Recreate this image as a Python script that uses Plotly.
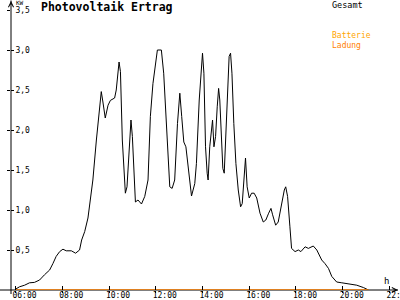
import plotly.graph_objects as go

# ---- data (hours of day, kW) ----
hours = [6.00, 6.17, 6.39, 6.60, 6.81, 7.03, 7.24, 7.46, 7.60, 7.74, 7.89, 8.03, 8.17, 8.39, 8.57,
         8.74, 8.83, 8.96, 9.10, 9.31, 9.46, 9.57, 9.67, 9.74, 9.84, 9.96, 10.06, 10.24, 10.31,
         10.43, 10.49, 10.57, 10.70, 10.77, 10.86, 10.94, 11.00, 11.06, 11.13, 11.24, 11.39,
         11.53, 11.67, 11.77, 11.88, 12.07, 12.24, 12.34, 12.49, 12.60, 12.70, 12.81, 12.93,
         13.03, 13.11, 13.20, 13.29, 13.39, 13.53, 13.67, 13.74, 13.86, 13.93, 14.00, 14.06,
         14.13, 14.20, 14.24, 14.31, 14.39, 14.43, 14.49, 14.56, 14.63, 14.69, 14.74, 14.82,
         14.87, 14.93, 15.00, 15.07, 15.14, 15.20, 15.26, 15.34, 15.43, 15.53, 15.63, 15.70,
         15.79, 15.84, 15.91, 16.00, 16.10, 16.21, 16.32, 16.46, 16.60, 16.71, 16.83, 16.93,
         17.00, 17.13, 17.24, 17.39, 17.50, 17.56, 17.64, 17.74, 17.81, 17.96, 18.10, 18.21,
         18.39, 18.53, 18.74, 18.89, 19.10, 19.24, 19.39, 19.53, 19.74, 19.96, 20.24, 20.60,
         20.89, 21.10]
gesamt_kw = [0.01, 0.04, 0.06, 0.09, 0.095, 0.125, 0.19, 0.25, 0.33, 0.42, 0.48, 0.51, 0.49, 0.49, 0.46,
             0.50, 0.625, 0.73, 0.90, 1.375, 1.875, 2.21, 2.48, 2.35, 2.15, 2.31, 2.37, 2.40, 2.50,
             2.85, 2.73, 1.875, 1.21, 1.29, 1.75, 2.125, 1.92, 1.46, 1.10, 1.125, 1.075,
             1.17, 1.375, 2.17, 2.58, 3.0, 3.0, 2.71, 1.96, 1.29, 1.27, 1.375, 2.08,
             2.46, 2.17, 1.85, 1.79, 1.50, 1.175, 1.33, 1.58, 2.375, 2.71, 2.96, 2.71,
             1.79, 1.46, 1.375, 1.79, 2.06, 2.125, 1.79, 1.92, 2.29, 2.52, 2.375, 1.875,
             1.52, 1.46, 1.96, 2.625, 2.92, 2.96, 2.71, 2.08, 1.58, 1.25, 1.04, 1.08,
             1.42, 1.65, 1.29, 1.15, 1.21, 1.21, 1.15, 0.96, 0.85, 0.875, 0.96, 1.02,
             0.94, 0.81, 0.85, 1.08, 1.25, 1.29, 1.17, 0.79, 0.52, 0.48, 0.50, 0.48,
             0.54, 0.52, 0.55, 0.50, 0.375, 0.33, 0.27, 0.17, 0.10, 0.09, 0.08, 0.06,
             0.03, 0.0]
batterie_hours = [6.0, 21.1]
batterie_kw = [0.0, 0.0]

x_tick_vals = [6, 8, 10, 12, 14, 16, 18, 20, 22]
x_tick_text = ["06:00", "08:00", "10:00", "12:00", "14:00", "16:00", "18:00", "20:00", "22:00"]
y_tick_vals = [0.5, 1.0, 1.5, 2.0, 2.5, 3.0, 3.5]
y_tick_text = ["0,5", "1,0", "1,5", "2,0", "2,5", "3,0", "3,5"]

X_RANGE = [5.8075, 22.364]
Y_RANGE = [0, 3.5]
ORANGE = "#FF8000"
MONO = "DejaVu Sans Mono"

fig = go.Figure()
fig.add_trace(go.Scatter(x=hours, y=gesamt_kw, mode="lines",
                         line=dict(color="black", width=1), hoverinfo="skip"))
fig.add_trace(go.Scatter(x=batterie_hours, y=batterie_kw, mode="lines",
                         line=dict(color=ORANGE, width=1.5), hoverinfo="skip"))
# empty trace to host the overlay tick axes
fig.add_trace(go.Scatter(x=[], y=[], xaxis="x2", yaxis="y2", hoverinfo="skip"))

fig.update_layout(
    width=400, height=300,
    margin=dict(l=11, r=2, t=10, b=10, autoexpand=False),
    paper_bgcolor="white", plot_bgcolor="rgba(0,0,0,0)",
    showlegend=False,
    xaxis=dict(range=X_RANGE, showgrid=False, zeroline=False, showline=False,
               automargin=False,
               tickmode="array", tickvals=x_tick_vals, ticktext=x_tick_text,
               ticks="inside", ticklen=4, tickcolor="black", tickwidth=1,
               ticklabelshift=9, ticklabelstandoff=-1, ticklabeloverflow="allow",
               tickfont=dict(family=MONO, size=8, color="black")),
    yaxis=dict(range=Y_RANGE, showgrid=False, zeroline=False, showline=False,
               automargin=False,
               tickmode="array", tickvals=y_tick_vals, ticktext=y_tick_text,
               ticks="inside", ticklen=3, tickcolor="black", tickwidth=1,
               ticklabelposition="inside", ticklabeloverflow="allow",
               tickfont=dict(family=MONO, size=8, color="black")),
    xaxis2=dict(range=X_RANGE, overlaying="x", anchor="y2", showgrid=False, zeroline=False,
                showline=False, automargin=False, tickmode="array", tickvals=x_tick_vals,
                ticks="outside", ticklen=2, tickcolor="black", tickwidth=1,
                showticklabels=False),
    yaxis2=dict(range=Y_RANGE, overlaying="y", anchor="x2", showgrid=False, zeroline=False,
                showline=False, automargin=False, tickmode="array", tickvals=y_tick_vals,
                ticks="outside", ticklen=3, tickcolor="black", tickwidth=1,
                showticklabels=False),
)

# axis lines (below traces so orange series covers x axis)
fig.add_shape(type="line", xref="paper", yref="paper", x0=-11/387, x1=1, y0=0, y1=0,
              line=dict(color="black", width=1), layer="below")
fig.add_shape(type="line", xref="paper", yref="paper", x0=0, x1=0, y0=-4/280, y1=1.034,
              line=dict(color="black", width=1), layer="below")
# arrow heads
fig.add_annotation(xref="paper", yref="paper", x=1, y=0, ax=-6, ay=0, text="",
                   showarrow=True, arrowhead=5, arrowsize=1, arrowwidth=1, arrowcolor="black")
fig.add_annotation(xref="paper", yref="paper", x=0, y=1.034, ax=0, ay=6, text="",
                   showarrow=True, arrowhead=5, arrowsize=1, arrowwidth=1, arrowcolor="black")

# texts
fig.add_annotation(xref="paper", yref="paper", x=28/387, y=1.009, xanchor="left",
                   yanchor="middle", showarrow=False, text="<b>Photovoltaik Ertrag</b>",
                   font=dict(family=MONO, size=11.5, color="black"))
fig.add_annotation(xref="paper", yref="paper", x=3/387, y=1.026, xanchor="left",
                   yanchor="middle", showarrow=False, text="KW",
                   font=dict(family=MONO, size=6, color="black"))
fig.add_annotation(xref="paper", yref="paper", x=(330 - 11)/387, y=1.018, xanchor="left",
                   yanchor="middle", showarrow=False, text="Gesamt",
                   font=dict(family=MONO, size=8.5, color="black"))
fig.add_annotation(xref="paper", yref="paper", x=(330 - 11)/387, y=(290 - 40.5)/280,
                   xanchor="left", yanchor="middle", align="left", showarrow=False,
                   text="<span style='color:#FFA500'>Batterie</span><br>"
                        "<span style='color:#FF8000'>Ladung</span>",
                   font=dict(family=MONO, size=8, color=ORANGE))
fig.add_annotation(xref="x", yref="y", x=21.88, y=0.11, xanchor="center",
                   yanchor="middle", showarrow=False, text="h",
                   font=dict(family=MONO, size=9, color="black"))

fig.write_html("out.html")
